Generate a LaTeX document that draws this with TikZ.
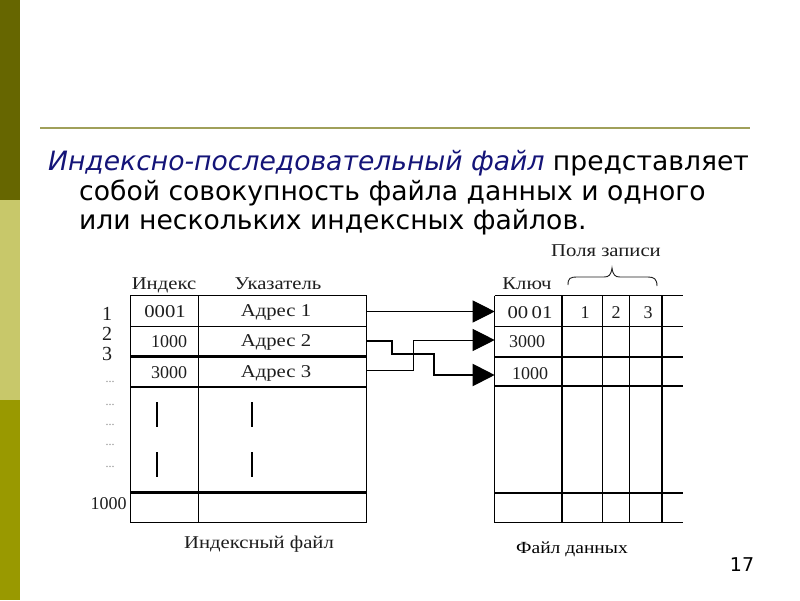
\documentclass[tikz,border=0pt]{standalone}
\usepackage{fontspec}
\usepackage{graphicx}
\setmainfont{Liberation Serif}
\newfontfamily\dejavu{DejaVu Sans}
\usetikzlibrary{arrows.meta}
\definecolor{bardark}{RGB}{102,102,0}
\definecolor{barlight}{RGB}{200,200,106}
\definecolor{barmid}{RGB}{153,153,0}
\definecolor{rulecol}{RGB}{160,160,90}
\definecolor{titleblue}{RGB}{20,20,120}
\definecolor{diagtext}{RGB}{30,30,30}
\newcommand{\sx}[1]{\scalebox{1.15}[1]{#1}}
\tikzset{
  dtext/.style={font=\fontsize{18}{20}\selectfont, inner sep=0pt, text=diagtext, anchor=base},
  numtext/.style={font=\fontsize{20}{20}\selectfont, inner sep=0pt, text=diagtext, anchor=base},
  dots/.style={font=\fontsize{12}{12}\selectfont, inner sep=0pt, text=black!45, anchor=base},
  ttext/.style={font=\dejavu\fontsize{26.6}{30}\selectfont, inner sep=0pt, anchor=base west},
  thinline/.style={line width=1pt},
  thickline/.style={line width=2.2pt},
  conn/.style={line width=1pt, -{Triangle[length=22pt,width=22pt]}},
  connthick/.style={line width=2pt, -{Triangle[length=22pt,width=22pt]}}
}
\begin{document}
\begin{tikzpicture}[x=1pt,y=-1pt]
\useasboundingbox (0,0) rectangle (800,600);
\fill[white] (0,0) rectangle (800,600);
% side bar
\fill[bardark] (0,0) rectangle (20,200);
\fill[barlight] (0,200) rectangle (20,400);
\fill[barmid] (0,400) rectangle (20,600);
% rule
\draw[rulecol, line width=2pt] (40,128) -- (750,128);
% title
\node[ttext] (t1) at (48,170.7) {{\color{titleblue}\itshape Индексно-последовательный файл} представляет};
\node[ttext] (t2) at (79,200) {собой совокупность файла данных и одного};
\node[ttext] (t3) at (79,229) {или нескольких индексных файлов.};

% ---------- index table ----------
\draw[thinline] (130,295.5) rectangle (366,522.5);
\draw[thinline] (198.3,295.5) -- (198.3,522.5);
\draw[thinline] (130,326) -- (366,326);
\draw[thickline] (130,356.5) -- (366,356.5);
\draw[thickline] (130,387) -- (366,387);
\draw[thickline] (130,492.5) -- (366,492.5);
\draw[line width=2pt] (157,402) -- (157,427);
\draw[line width=2pt] (157,452) -- (157,477);
\draw[line width=1.2pt] (252,402) -- (252,427);
\draw[line width=1.2pt] (252,452) -- (252,477);

\node[dtext] (hidx) at (164,289) {\sx{Индекс}};
\node[dtext] (hptr) at (278,289) {\sx{Указатель}};
\node[dtext] (k1) at (165,317) {\sx{0001}};
\node[dtext] (k2) at (169,347) {1000};
\node[dtext] (k3) at (169,378) {3000};
\node[dtext] (a1) at (276,316) {\sx{Адрес 1}};
\node[dtext] (a2) at (276,346) {\sx{Адрес 2}};
\node[dtext] (a3) at (276,377) {\sx{Адрес 3}};
\node[numtext] (n1) at (107,320) {1};
\node[numtext] (n2) at (107,340) {2};
\node[numtext] (n3) at (107,360) {3};
\node[dots] (d1) at (110,382) {...};
\node[dots] (d2) at (110,405) {...};
\node[dots] (d3) at (110,425) {...};
\node[dots] (d4) at (110,445) {...};
\node[dots] (d5) at (110,467) {...};
\node[dtext] (n1000) at (108.5,509) {1000};
\node[dtext] (capidx) at (259,548) {\sx{Индексный файл}};

% ---------- data table ----------
\foreach \xx/\w in {494.7/1.2, 562/1.6, 602.3/1.4, 629.3/1, 662/1.6}
  \draw[line width=\w pt] (\xx,295.7) -- (\xx,522.7);
\draw[thinline] (494.7,295.7) -- (683,295.7);
\draw[thinline] (494.7,326.7) -- (683,326.7);
\draw[thickline] (494.7,356.7) -- (683,356.7);
\draw[thickline] (494.7,386.3) -- (683,386.3);
\draw[thickline] (494.7,493) -- (683,493);
\draw[thinline] (494.7,522.7) -- (683,522.7);

\node[dtext] (key) at (527,289) {\sx{Ключ}};
\node[dtext] (fields) at (606,256) {\sx{Поля записи}};
\draw[line width=0.9pt, diagtext] (568,285) .. controls (568,278) and (570,277) .. (578,277) -- (604,277)
  .. controls (609,277) and (611,275) .. (612,268)
  .. controls (613,275) and (615,277) .. (620,277) -- (648,277)
  .. controls (654,277) and (657,279) .. (657,286);
\node[dtext] (r1) at (530,318) {\sx{00\,01}};
\node[dtext] (f1) at (585,318) {1};
\node[dtext] (f2) at (616,318) {2};
\node[dtext] (f3) at (648,318) {3};
\node[dtext] (r2) at (527,347) {3000};
\node[dtext] (r3) at (530,379) {1000};
\node[dtext, text=black, font=\fontsize{17}{20}\selectfont] (capdat) at (572,553) {\sx{Файл данных}};

% ---------- connectors ----------
\coordinate (i1) at (366,311.5);
\coordinate (i2) at (366,341);
\coordinate (i3) at (366,370.5);
\coordinate (e1) at (494.7,311.5);
\coordinate (e2) at (494.7,340);
\coordinate (e3) at (494.7,375);
\draw[conn] (i1) -- (e1);
\draw[connthick] (i2) -| (392,354) -| (434,375) -- (e3);
\draw[conn] (i3) -| (413,340) -- (e2);

% page number
\node[font=\dejavu\fontsize{19}{20}\selectfont, inner sep=0pt] (pg) at (742,565) {17};
\end{tikzpicture}
\end{document}
